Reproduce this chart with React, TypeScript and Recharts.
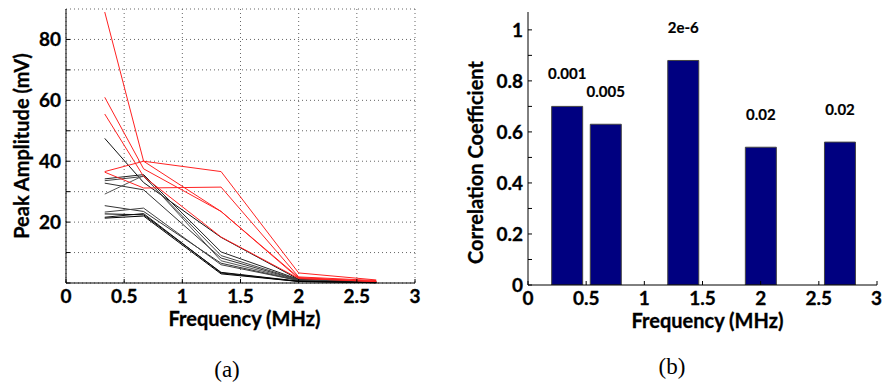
import React from 'react';
import {
  LineChart,
  Line,
  XAxis,
  YAxis,
  CartesianGrid,
  BarChart,
  Bar,
  LabelList,
} from 'recharts';

// ---- (a) peak amplitude vs frequency ----
const frequencies = [0.333, 0.667, 1.333, 2.0, 2.667];

const blackSeries = [
  [47.5, 33, 15, 1.2, 0.3],
  [34.2, 35.6, 10.2, 1.2, 0.3],
  [33.6, 35, 9, 1.1, 0.3],
  [32.8, 30.6, 8.2, 1, 0.2],
  [29.2, 35.3, 7.3, 0.9, 0.2],
  [25.4, 23.5, 6.5, 0.8, 0.2],
  [23.3, 24.6, 6, 0.8, 0.2],
  [22.7, 22.4, 3.5, 0.6, 0.1],
  [21.6, 22.8, 3.3, 0.5, 0.1],
  [21.3, 22, 3, 0.5, 0.1],
];

const redSeries = [
  [89, 40, 23.5, 1.8, 0.5],
  [61, 37.5, 23.5, 1.5, 0.5],
  [55.5, 35, 15.1, 1.5, 0.5],
  [36.6, 40, 36.6, 3.3, 1],
  [36.4, 31.2, 31.5, 2, 0.8],
];

const freqTicks = [0, 0.5, 1, 1.5, 2, 2.5, 3];
const ampTicks = [0, 10, 20, 30, 40, 50, 60, 70, 80];
const ampLabels = [20, 40, 60, 80];

// ---- (b) correlation coefficient per frequency ----
const barFrequencies = [0.335, 0.667, 1.333, 2.0, 2.68];
const correlations = [0.7, 0.63, 0.88, 0.54, 0.56];
const pValues = ['0.001', '0.005', '2e-6', '0.02', '0.02'];

const corrTicks = [0, 0.1, 0.2, 0.3, 0.4, 0.5, 0.6, 0.7, 0.8, 0.9, 1];
const corrLabels = [0, 0.2, 0.4, 0.6, 0.8, 1];

const amplitudeRows = frequencies.map((f, i) => {
  const row: Record<string, number> = { f };
  blackSeries.forEach((s, k) => {
    row['k' + k] = s[i];
  });
  redSeries.forEach((s, k) => {
    row['r' + k] = s[i];
  });
  return row;
});

const correlationRows = barFrequencies.map((f, i) => ({
  f,
  r: correlations[i],
  p: pValues[i],
}));

const FONT = 'Lato, "Open Sans", sans-serif';
const tickStyle = {
  fill: '#000',
  fontSize: 19,
  fontWeight: 700,
  fontFamily: FONT,
  stroke: '#000',
  strokeWidth: 0.3,
};
const titleStyle = {
  fill: '#000',
  fontSize: 20,
  fontWeight: 700,
  fontFamily: FONT,
  stroke: '#000',
  strokeWidth: 0.3,
};

const blackShades = ['#111', '#222', '#444', '#333', '#555', '#333', '#444', '#000', '#111', '#000'];

export default function App() {
  return (
    <div
      style={{
        position: 'absolute',
        left: 0,
        top: 0,
        width: 882,
        height: 385,
        background: '#fff',
        overflow: 'hidden',
      }}
    >
      <div style={{ position: 'absolute', left: 0, top: 0 }}>
        <LineChart
          width={440}
          height={340}
          data={amplitudeRows}
          margin={{ top: 9, right: 25, bottom: 0, left: 0 }}
        >
          <CartesianGrid stroke="#666" strokeDasharray="1 3" />
          <XAxis
            dataKey="f"
            type="number"
            domain={[0, 3]}
            ticks={freqTicks}
            allowDataOverflow
            height={57}
            axisLine={{ stroke: '#000' }}
            tickLine={{ stroke: '#000' }}
            tickSize={-4}
            tickMargin={11}
            tick={tickStyle}
            tickFormatter={(v: number) => String(v)}
            label={{
              value: 'Frequency (MHz)',
              position: 'center',
              dx: 4,
              dy: 7,
              style: titleStyle,
            }}
          />
          <XAxis
            xAxisId="top"
            dataKey="f"
            type="number"
            orientation="top"
            domain={[0, 3]}
            ticks={freqTicks}
            height={0}
            axisLine={{ stroke: '#000' }}
            tickLine={{ stroke: '#000' }}
            tickSize={-4}
            tickFormatter={() => ''}
          />
          <YAxis
            type="number"
            domain={[0, 90]}
            ticks={ampTicks}
            width={66}
            axisLine={{ stroke: '#000' }}
            tickLine={{ stroke: '#000' }}
            tickSize={-4}
            tickMargin={9}
            tick={tickStyle}
            tickFormatter={(v: number) => (ampLabels.includes(v) ? String(v) : '')}
            label={{
              value: 'Peak Amplitude (mV)',
              angle: -90,
              position: 'center',
              dx: -11,
              style: titleStyle,
            }}
          />
          <YAxis
            yAxisId="right"
            orientation="right"
            type="number"
            domain={[0, 90]}
            ticks={ampTicks}
            width={0}
            axisLine={{ stroke: '#000' }}
            tickLine={{ stroke: '#000' }}
            tickSize={-4}
            tickFormatter={() => ''}
          />
          {blackSeries.map((_, k) => (
            <Line
              key={'k' + k}
              dataKey={'k' + k}
              type="linear"
              stroke={blackShades[k]}
              strokeWidth={1}
              dot={false}
              isAnimationActive={false}
            />
          ))}
          {redSeries.map((_, k) => (
            <Line
              key={'r' + k}
              dataKey={'r' + k}
              type="linear"
              stroke="#f22"
              strokeWidth={1}
              dot={false}
              isAnimationActive={false}
            />
          ))}
        </LineChart>
      </div>

      <div style={{ position: 'absolute', left: 450, top: 0 }}>
        <BarChart
          width={432}
          height={340}
          data={correlationRows}
          margin={{ top: 12, right: 5, bottom: 0, left: 0 }}
        >
          <XAxis
            dataKey="f"
            type="number"
            domain={[0, 3]}
            ticks={freqTicks}
            allowDataOverflow
            height={55}
            axisLine={{ stroke: '#000' }}
            tickLine={{ stroke: '#000' }}
            tickSize={-4}
            tickMargin={11}
            tick={tickStyle}
            tickFormatter={(v: number) => String(v)}
            label={{
              value: 'Frequency (MHz)',
              position: 'center',
              dx: 5,
              dy: 8,
              style: titleStyle,
            }}
          />
          <XAxis
            xAxisId="top"
            dataKey="f"
            type="number"
            orientation="top"
            domain={[0, 3]}
            ticks={freqTicks}
            height={0}
            axisLine={{ stroke: '#000' }}
            tickLine={{ stroke: '#000' }}
            tickSize={-4}
            tickFormatter={() => ''}
          />
          <YAxis
            type="number"
            domain={[0, 1.07]}
            ticks={corrTicks}
            allowDataOverflow
            width={78}
            axisLine={{ stroke: '#000' }}
            tickLine={{ stroke: '#000' }}
            tickSize={-4}
            tickMargin={9}
            tick={tickStyle}
            tickFormatter={(v: number) =>
              corrLabels.some((l) => Math.abs(l - v) < 1e-9) ? String(v) : ''
            }
            label={{
              value: 'Correlation Coefficient',
              angle: -90,
              position: 'center',
              dx: -13,
              dy: 14,
              style: titleStyle,
            }}
          />
          <YAxis
            yAxisId="right"
            orientation="right"
            type="number"
            domain={[0, 1.07]}
            ticks={corrTicks}
            width={0}
            axisLine={{ stroke: '#000' }}
            tickLine={{ stroke: '#000' }}
            tickSize={-4}
            tickFormatter={() => ''}
          />
          <Bar
            dataKey="r"
            barSize={31}
            fill="#000080"
            stroke="#444"
            strokeWidth={1}
            isAnimationActive={false}
          >
            <LabelList
              dataKey="p"
              position="top"
              offset={27}
              style={{
                fill: '#000',
                fontSize: 15,
                fontWeight: 700,
                fontFamily: FONT,
                stroke: '#000',
                strokeWidth: 0.2,
              }}
            />
          </Bar>
        </BarChart>
      </div>

      <div
        style={{
          position: 'absolute',
          left: 187,
          width: 80,
          top: 357,
          textAlign: 'center',
          fontFamily: '"Liberation Serif", serif',
          fontSize: 23,
          lineHeight: '26px',
        }}
      >
        (a)
      </div>
      <div
        style={{
          position: 'absolute',
          left: 632,
          width: 80,
          top: 354,
          textAlign: 'center',
          fontFamily: '"Liberation Serif", serif',
          fontSize: 23,
          lineHeight: '26px',
        }}
      >
        (b)
      </div>
    </div>
  );
}
